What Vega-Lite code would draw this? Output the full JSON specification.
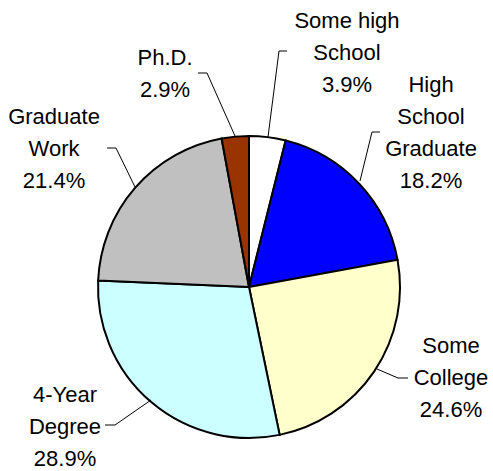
{
  "$schema": "https://vega.github.io/schema/vega-lite/v6.json",
  "width": 493,
  "height": 471,
  "padding": 0,
  "autosize": {"type": "fit", "contains": "padding"},
  "background": "white",
  "config": {"view": {"stroke": null}},
  "datasets": {
    "slices": [
      {"k": 1, "category": "Some high School", "pct": 3.9},
      {"k": 2, "category": "High School Graduate", "pct": 18.2},
      {"k": 3, "category": "Some College", "pct": 24.6},
      {"k": 4, "category": "4-Year Degree", "pct": 28.9},
      {"k": 5, "category": "Graduate Work", "pct": 21.4},
      {"k": 6, "category": "Ph.D.", "pct": 2.9}
    ],
    "labels": [
      {"text": "Some high\nSchool\n3.9%", "x": 347, "y": 28},
      {"text": "High\nSchool\nGraduate\n18.2%", "x": 431, "y": 92},
      {"text": "Some\nCollege\n24.6%", "x": 451, "y": 353},
      {"text": "4-Year\nDegree\n28.9%", "x": 65, "y": 402},
      {"text": "Graduate\nWork\n21.4%", "x": 54, "y": 124},
      {"text": "Ph.D.\n2.9%", "x": 165, "y": 65}
    ],
    "leaders": [
      {"seg": "a", "i": 1, "x": 268, "y": 137},
      {"seg": "a", "i": 2, "x": 279, "y": 51},
      {"seg": "a", "i": 3, "x": 287, "y": 51},
      {"seg": "b", "i": 1, "x": 360, "y": 181},
      {"seg": "b", "i": 2, "x": 372, "y": 132},
      {"seg": "b", "i": 3, "x": 380, "y": 132},
      {"seg": "c", "i": 1, "x": 377, "y": 369},
      {"seg": "c", "i": 2, "x": 398, "y": 378},
      {"seg": "c", "i": 3, "x": 408, "y": 378},
      {"seg": "d", "i": 1, "x": 151, "y": 400},
      {"seg": "d", "i": 2, "x": 115, "y": 425},
      {"seg": "d", "i": 3, "x": 105, "y": 425},
      {"seg": "e", "i": 1, "x": 135, "y": 187},
      {"seg": "e", "i": 2, "x": 116, "y": 148},
      {"seg": "e", "i": 3, "x": 107, "y": 148},
      {"seg": "f", "i": 1, "x": 235, "y": 136},
      {"seg": "f", "i": 2, "x": 207, "y": 73},
      {"seg": "f", "i": 3, "x": 198, "y": 73}
    ]
  },
  "layer": [
    {
      "data": {"name": "slices"},
      "mark": {"type": "arc", "radius": 151, "stroke": "black", "strokeWidth": 2},
      "encoding": {
        "x": {"datum": 249, "type": "quantitative", "scale": {"domain": [0, 493]}, "axis": null},
        "y": {"datum": 287, "type": "quantitative", "scale": {"domain": [0, 471], "reverse": true}, "axis": null},
        "theta": {"field": "pct", "type": "quantitative", "stack": true},
        "order": {"field": "k", "type": "quantitative"},
        "color": {
          "field": "category",
          "type": "nominal",
          "legend": null,
          "scale": {
            "domain": ["Some high School", "High School Graduate", "Some College", "4-Year Degree", "Graduate Work", "Ph.D."],
            "range": ["#FFFFFF", "#0000FF", "#FFFFCC", "#CCFFFF", "#C0C0C0", "#993300"]
          }
        }
      }
    },
    {
      "data": {"name": "leaders"},
      "mark": {"type": "line", "color": "black", "strokeWidth": 1},
      "encoding": {
        "x": {"field": "x", "type": "quantitative", "scale": {"domain": [0, 493]}, "axis": null},
        "y": {"field": "y", "type": "quantitative", "scale": {"domain": [0, 471], "reverse": true}, "axis": null},
        "detail": {"field": "seg"},
        "order": {"field": "i", "type": "quantitative"}
      }
    },
    {
      "data": {"name": "labels"},
      "mark": {"type": "text", "font": "Liberation Sans", "fontSize": 22, "lineHeight": 32, "lineBreak": "\n", "align": "center", "baseline": "alphabetic", "color": "black"},
      "encoding": {
        "x": {"field": "x", "type": "quantitative", "scale": {"domain": [0, 493]}, "axis": null},
        "y": {"field": "y", "type": "quantitative", "scale": {"domain": [0, 471], "reverse": true}, "axis": null},
        "text": {"field": "text"}
      }
    }
  ]
}
